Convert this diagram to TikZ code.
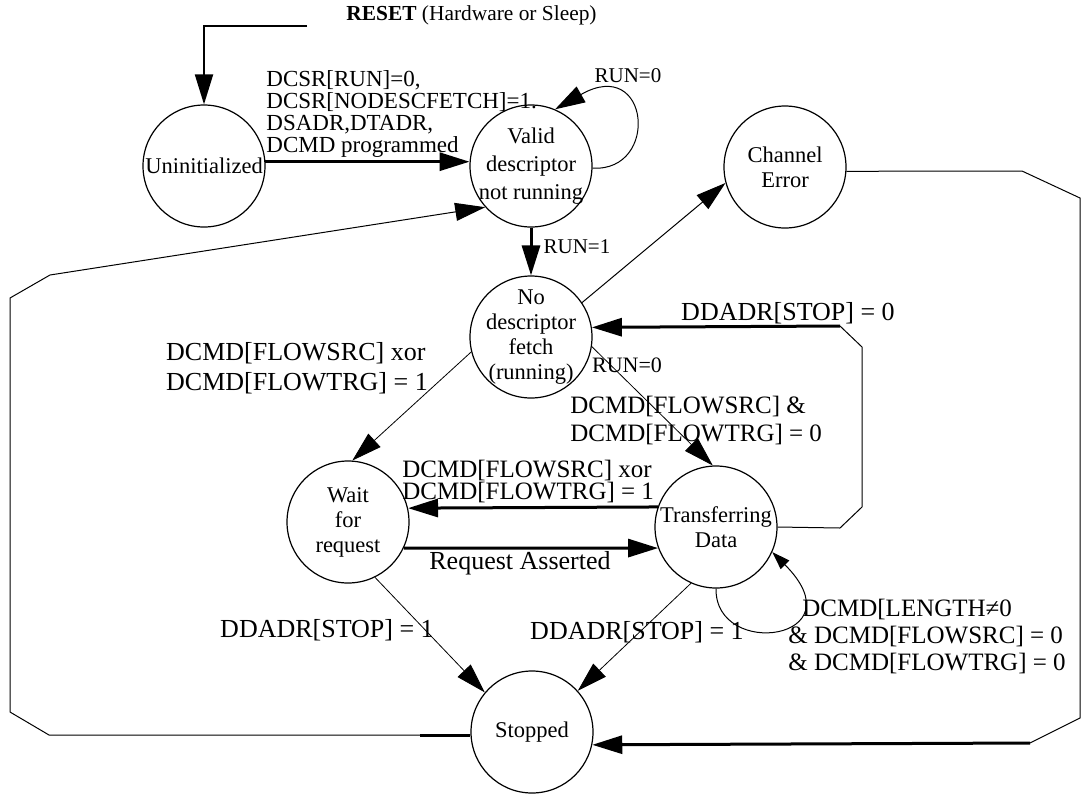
\documentclass[tikz,border=0pt]{standalone}
\usepackage{fontspec}
\setmainfont{Liberation Serif}
\usetikzlibrary{arrows.meta}

\begin{document}
\begin{tikzpicture}[x=0.5pt, y=-0.5pt,
    st/.style={draw, circle, minimum size=61pt, inner sep=-4pt, line width=0.6pt,
        align=center, font=\fontsize{11.25}{12.5}\selectfont},
    tr/.style={line width=0.5pt, -{Triangle[length=15pt,width=9pt]}},
    trb/.style={line width=1.5pt, -{Triangle[length=15pt,width=9pt]}},
    lab/.style={inner sep=0pt, align=left, font=\fontsize{12.5}{14}\selectfont}]
    \useasboundingbox (0,0) rectangle (1082,794);

    % states
    \node[st] (uninit) at (204,166) {Uninitialized};
    \node[st, font=\fontsize{11.25}{14}\selectfont] (valid) at (531,166) {Valid\\descriptor\\not running};
    \node[st] (chan) at (785,167) {Channel\\Error};
    \node[st] (nofetch) at (531,337) {No\\descriptor\\fetch\\(running)};
    \node[st] (wait) at (348,522) {Wait\\for\\request};
    \node[st] (xfer) at (716,527) {Transferring\\Data};
    \node[st] (stop) at (532,732) {Stopped};

    % reset
    \node[lab, anchor=west, font=\fontsize{10.7}{12}\selectfont] (reset) at (346,15) {\textbf{RESET} (Hardware or Sleep)};
    \coordinate (rst) at (307,26);
    \draw[line width=1pt, -{Triangle[length=15pt,width=9pt]}] (rst) -| (uninit.north);

    % transitions
    \draw[trb] (uninit.4) -- (valid.176);
    \draw[tr] (valid.358) .. controls (660,172) and (650,55) .. (valid.67);
    \draw[trb] (valid.south) -- (nofetch.north);
    \draw[tr] (nofetch.34) -- (chan.195);
    \coordinate (ce) at (1030,743);
    \draw[line width=0.5pt] (chan.356) -- (1022,171) -- (1080,198) -- (1080,718) -- (ce);
    \draw[trb] (ce) -- (stop.348);
    \draw[tr] (stop.183) -- (49,735) -- (10,712) -- (10,298) -- (50,275) -- (valid.222);
    \draw[line width=1.5pt] (stop.183) -- ++(-50,0);
    \coordinate (dk) at (840,326);
    \draw[line width=0.5pt] (xfer.east) -- (840,528) -- (862,507) -- (862,347) -- (dk);
    \draw[trb] (dk) -- (nofetch.9);
    \draw[tr, line width=0.4pt] (nofetch.194) -- (wait.86);
    \draw[tr, line width=0.4pt] (nofetch.351) -- (xfer.93);
    \draw[trb] (xfer.161) -- (wait.13);
    \draw[trb] (wait.335) -- (xfer.200);
    \draw[tr, line width=0.4pt] (wait.296) -- (stop.140);
    \draw[tr, line width=0.4pt] (xfer.246) -- (stop.42);
    \draw[line width=0.5pt, -{Triangle[length=9pt,width=6pt]}] (xfer.south) .. controls (715,660) and (860,640) .. (xfer.336);

    % labels
    \node[lab, anchor=north west, font=\fontsize{11.5}{11}\selectfont] (lcfg) at (266,70)
        {DCSR[RUN]=0,\\DCSR[NODESCFETCH]=1.\\DSADR,DTADR,\\DCMD programmed};
    \node[lab, font=\fontsize{10.5}{12}\selectfont] (lrun0a) at (628,76) {RUN=0};
    \node[lab, font=\fontsize{10.5}{12}\selectfont] (lrun1) at (577,247) {RUN=1};
    \node[lab, font=\fontsize{13}{14}\selectfont] (lstop0) at (788,313) {DDADR[STOP] = 0};
    \node[lab, font=\fontsize{11}{12}\selectfont] (lrun0b) at (627,365) {RUN=0};
    \node[lab, font=\fontsize{13}{15}\selectfont] (lxora) at (297,368) {DCMD[FLOWSRC] xor\\DCMD[FLOWTRG] = 1};
    \node[lab, anchor=west] (land) at (570,420) {DCMD[FLOWSRC] \&\\DCMD[FLOWTRG] = 0};
    \node[lab, anchor=west, font=\fontsize{12.5}{11}\selectfont] (lxorb) at (402,481) {DCMD[FLOWSRC] xor\\DCMD[FLOWTRG] = 1};
    \node[lab, font=\fontsize{13}{14}\selectfont] (lreq) at (520,563) {Request Asserted};
    \node[lab, font=\fontsize{13}{14}\selectfont] (lstop1a) at (327,630) {DDADR[STOP] = 1};
    \node[lab, font=\fontsize{13}{14}\selectfont] (lstop1b) at (637,632) {DDADR[STOP] = 1};
    \node[lab, anchor=west, font=\fontsize{12.5}{13.5}\selectfont] (llen) at (788,636)
        {\hspace{7pt}DCMD[LENGTH≠0\\\& DCMD[FLOWSRC] = 0\\\& DCMD[FLOWTRG] = 0};
\end{tikzpicture}
\end{document}
